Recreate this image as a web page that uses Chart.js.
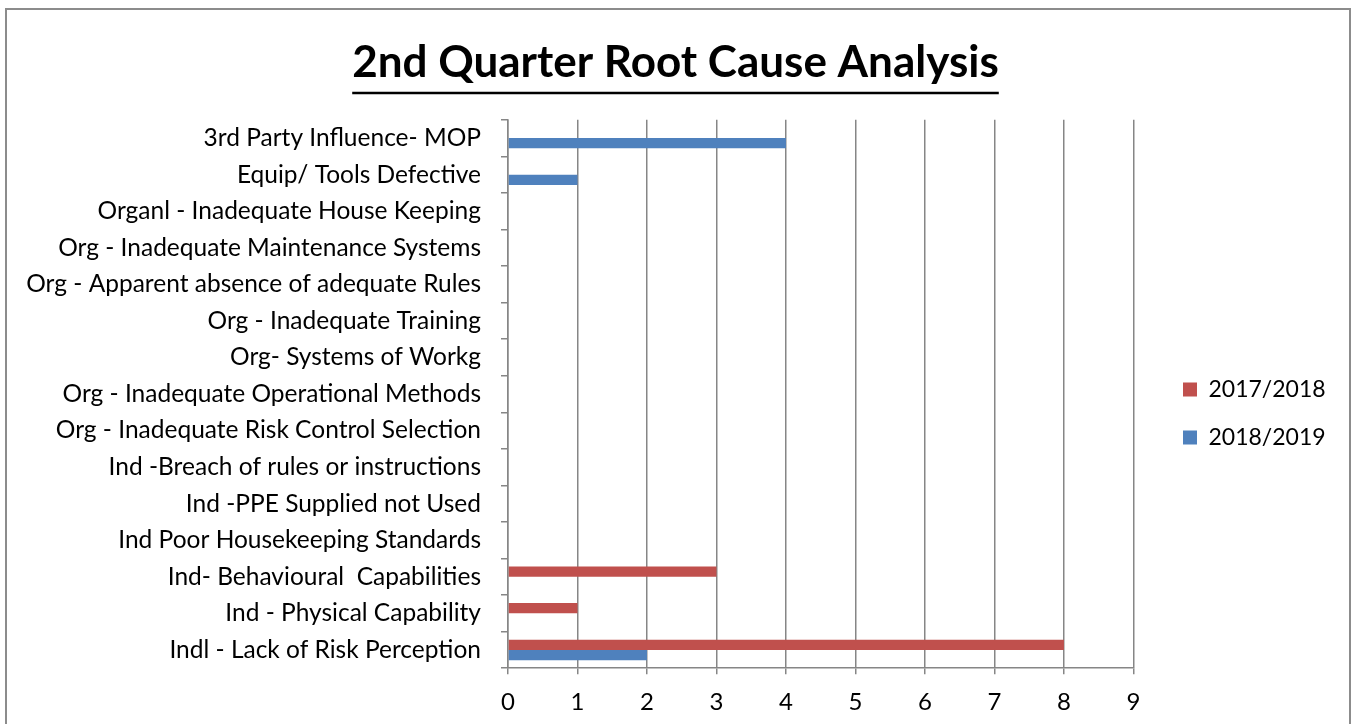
<!DOCTYPE html>
<html>
<head>
<meta charset="utf-8">
<script src="https://cdn.jsdelivr.net/npm/chart.js@4.4.1/dist/chart.umd.min.js"></script>
<style>
  html, body { margin: 0; padding: 0; background: #ffffff; }
  #wrap { position: relative; width: 1357px; height: 724px; }
  canvas { display: block; }
</style>
</head>
<body>
<div id="wrap"><canvas id="c" width="1357" height="724"></canvas></div>
<script>
const categories = [
  "3rd Party Influence- MOP",
  "Equip/ Tools Defective",
  "Organl - Inadequate House Keeping",
  "Org - Inadequate Maintenance Systems",
  "Org - Apparent absence of adequate Rules",
  "Org - Inadequate Training",
  "Org- Systems of Workg",
  "Org - Inadequate Operational Methods",
  "Org - Inadequate Risk Control Selection",
  "Ind -Breach of rules or instructions",
  "Ind -PPE Supplied not Used",
  "Ind Poor Housekeeping Standards",
  "Ind- Behavioural  Capabilities",
  "Ind - Physical Capability",
  "Indl - Lack of Risk Perception"
];
const series2017 = [0, 0, 0, 0, 0, 0, 0, 0, 0, 0, 0, 0, 3, 1, 8];
const series2018 = [4, 1, 0, 0, 0, 0, 0, 0, 0, 0, 0, 0, 0, 0, 2];
const seriesNames = ["2017/2018", "2018/2019"];
const xTicks = [0, 1, 2, 3, 4, 5, 6, 7, 8, 9];
const titleText = "2nd Quarter Root Cause Analysis";

const FONT = "Lato";
const GRID = "#868686";
const TITLE_SIZE = 44;
const LEGEND_PAD = 25;

const framePlugin = {
  id: "frame",
  afterLayout(chart) {
    const lg = chart.legend;
    if (lg) {
      const w = lg.width;
      lg.left = 1183 - LEGEND_PAD;
      lg.right = lg.left + w;
      lg.top += 37;
      lg.bottom += 37;
    }
    const t = chart.titleBlock;
    if (t) {
      t.left += 20;
      t.right += 20;
    }
  },
  beforeDraw(chart) {
    const ctx = chart.ctx;
    ctx.save();
    ctx.fillStyle = "#ffffff";
    ctx.fillRect(0, 0, chart.width, chart.height);
    ctx.strokeStyle = "#8c8c8c";
    ctx.lineWidth = 2;
    ctx.strokeRect(6, 9, 1344, 730);
    ctx.restore();
  },
  afterDraw(chart) {
    const t = chart.titleBlock;
    if (!t) return;
    const ctx = chart.ctx;
    ctx.save();
    ctx.font = "bold " + TITLE_SIZE + "px " + FONT;
    const w = ctx.measureText(titleText).width;
    const cx = (t.left + t.right) / 2;
    ctx.strokeStyle = "#000";
    ctx.lineWidth = 2.5;
    ctx.beginPath();
    ctx.moveTo(cx - w / 2, 93);
    ctx.lineTo(cx + w / 2, 93);
    ctx.stroke();
    ctx.restore();
  }
};

new Chart(document.getElementById("c"), {
  type: "bar",
  data: {
    labels: categories,
    datasets: [
      { label: seriesNames[0], data: series2017, backgroundColor: "#C0504D", borderWidth: 0 },
      { label: seriesNames[1], data: series2018, backgroundColor: "#4F81BD", borderWidth: 0 }
    ]
  },
  options: {
    indexAxis: "y",
    responsive: false,
    animation: false,
    devicePixelRatio: 1,
    categoryPercentage: 0.56,
    barPercentage: 1.0,
    layout: { padding: { left: 0, right: 46, top: 22, bottom: -7 } },
    plugins: {
      title: {
        display: true,
        text: titleText,
        color: "#000",
        font: { family: FONT, size: TITLE_SIZE, weight: "bold" },
        padding: { top: 14, bottom: 31 }
      },
      legend: {
        position: "right",
        align: "center",
        labels: {
          color: "#000",
          font: { family: FONT, size: 23 },
          boxWidth: 14,
          boxHeight: 14,
          padding: LEGEND_PAD
        }
      },
      tooltip: { enabled: false }
    },
    scales: {
      x: {
        min: 0,
        max: 9,
        afterBuildTicks(scale) { scale.ticks = xTicks.map(v => ({ value: v })); },
        ticks: { color: "#000", font: { family: FONT, size: 24 }, padding: 14 },
        grid: { color: GRID, lineWidth: 1.5, tickLength: 6, drawTicks: true },
        border: { color: GRID, width: 1.5 }
      },
      y: {
        afterFit(scale) { scale.width = 508; },
        ticks: { color: "#000", font: { family: FONT, size: 24.5 }, padding: 20, autoSkip: false },
        grid: { offset: true, drawOnChartArea: false, color: GRID, lineWidth: 1.5, tickLength: 7 },
        border: { color: GRID, width: 1.5 }
      }
    }
  },
  plugins: [framePlugin]
});
</script>
</body>
</html>
